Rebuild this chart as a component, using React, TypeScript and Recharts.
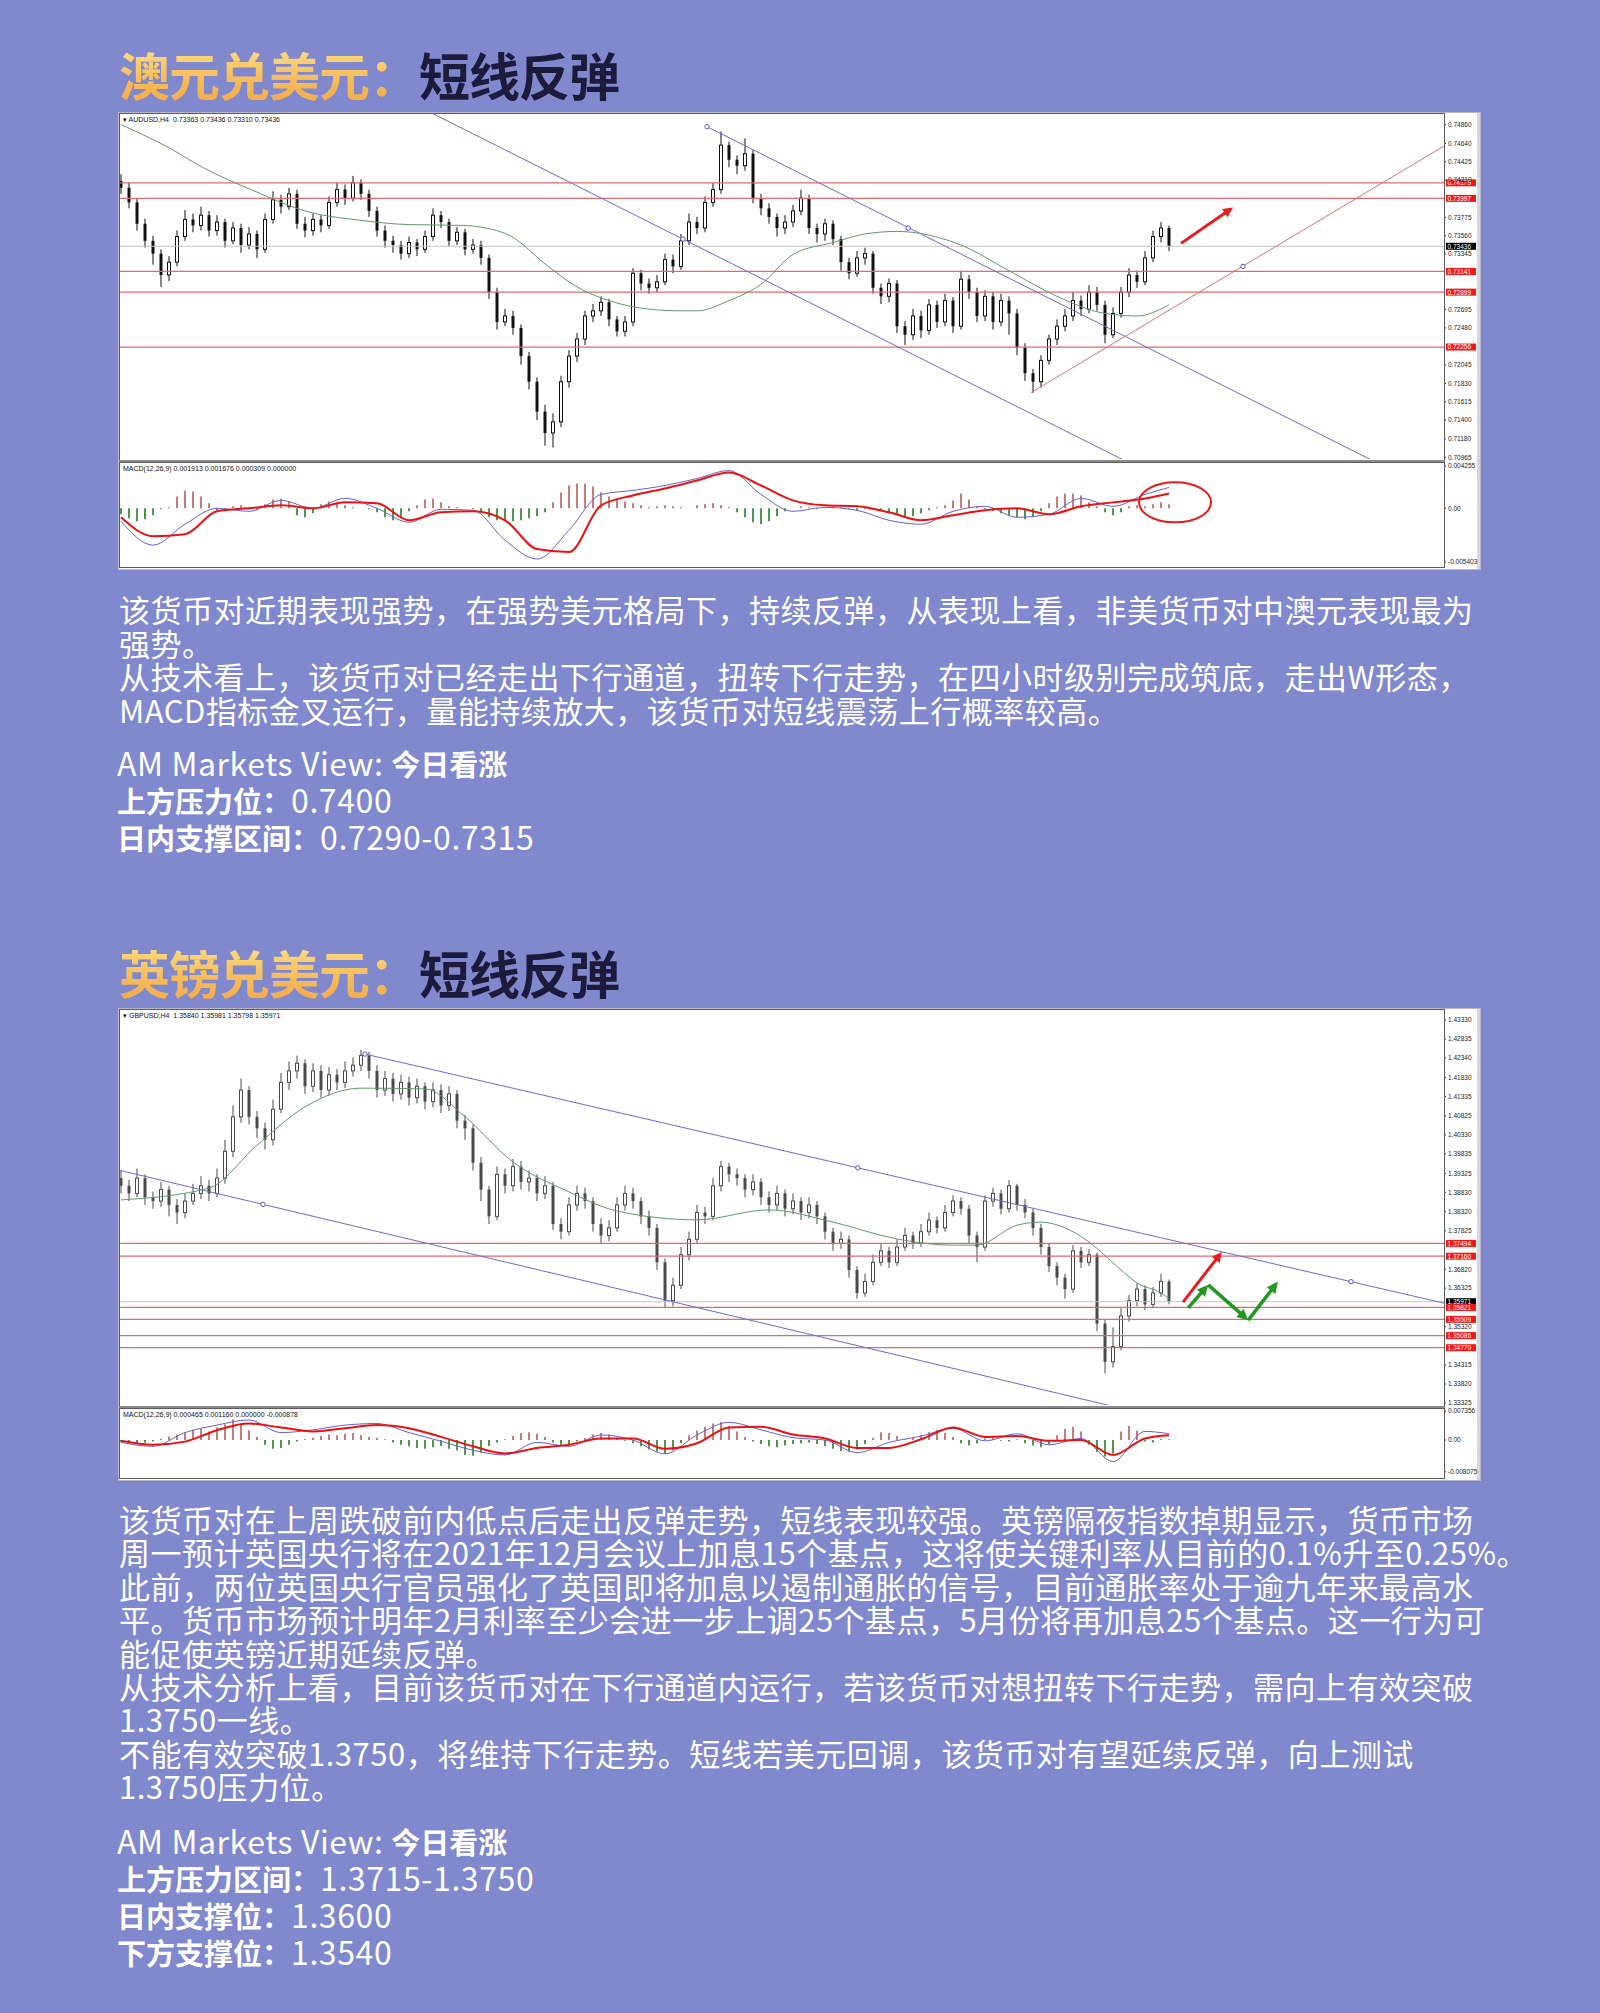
import React from 'react';
import { ComposedChart, Bar, Line, XAxis, YAxis, ReferenceLine, ReferenceDot, Cell } from 'recharts';

// ---------- AUDUSD H4 (prices in 1/10000) ----------
const AUD_OPEN0 = 7420;
const AUD_CLOSE = [
  7412, 7395, 7370, 7350, 7335, 7310, 7325, 7355, 7375, 7368,
  7380, 7362, 7372, 7350, 7365, 7345, 7358, 7340, 7375, 7398,
  7390, 7405, 7370, 7362, 7375, 7368, 7395, 7410, 7400, 7418,
  7405, 7385, 7362, 7350, 7345, 7335, 7348, 7340, 7355, 7380,
  7372, 7350, 7360, 7340, 7345, 7330, 7290, 7255, 7262, 7248,
  7215, 7185, 7150, 7125, 7138, 7185, 7215, 7235, 7262, 7268,
  7278, 7258, 7244, 7255, 7312, 7300, 7295, 7302, 7328, 7320,
  7350, 7372, 7365, 7395, 7410, 7462, 7445, 7438, 7452, 7400,
  7388, 7378, 7365, 7372, 7385, 7400, 7365, 7358, 7370, 7352,
  7325, 7312, 7330, 7335, 7295, 7285, 7300, 7250, 7240, 7262,
  7245, 7275, 7255, 7280, 7250, 7305, 7290, 7262, 7285, 7255,
  7280, 7265, 7225, 7195, 7185, 7210, 7235, 7250, 7262, 7280,
  7270, 7290, 7275, 7240, 7265, 7290, 7310, 7302, 7330, 7355,
  7365, 7344,
];
const AUD_HIGH = [
  7428, 7418, 7400, 7376, 7356, 7340, 7332, 7362, 7386, 7382,
  7390, 7385, 7380, 7376, 7372, 7370, 7366, 7362, 7382, 7408,
  7404, 7412, 7410, 7378, 7382, 7380, 7402, 7418, 7416, 7426,
  7422, 7410, 7390, 7368, 7356, 7350, 7355, 7352, 7362, 7388,
  7385, 7376, 7366, 7364, 7352, 7350, 7334, 7295, 7270, 7268,
  7252, 7220, 7190, 7158, 7148, 7192, 7222, 7242, 7268, 7276,
  7285, 7282, 7262, 7262, 7318, 7316, 7306, 7310, 7335, 7334,
  7358, 7382, 7378, 7402, 7418, 7478, 7466, 7450, 7470, 7456,
  7405, 7394, 7382, 7380, 7392, 7410, 7404, 7370, 7376, 7374,
  7356, 7330, 7338, 7342, 7338, 7300, 7306, 7304, 7256, 7270,
  7268, 7282, 7280, 7288, 7284, 7315, 7310, 7295, 7292, 7290,
  7288, 7285, 7270, 7230, 7200, 7216, 7240, 7258, 7270, 7290,
  7286, 7298, 7296, 7280, 7272, 7296, 7318, 7315, 7338, 7362,
  7372, 7368,
];
const AUD_LOW = [
  7405, 7388, 7362, 7342, 7322, 7296, 7303, 7320, 7350, 7360,
  7362, 7355, 7356, 7342, 7346, 7336, 7340, 7330, 7336, 7370,
  7382, 7386, 7364, 7354, 7356, 7360, 7364, 7390, 7392, 7396,
  7398, 7378, 7355, 7342, 7336, 7328, 7330, 7332, 7336, 7350,
  7365, 7344, 7345, 7333, 7335, 7322, 7282, 7246, 7250, 7240,
  7205, 7176, 7140, 7110, 7108, 7132, 7178, 7208, 7228, 7255,
  7262, 7250, 7238, 7238, 7250, 7292, 7288, 7290, 7298, 7312,
  7316, 7345, 7358, 7360, 7390, 7405, 7436, 7428, 7432, 7394,
  7380, 7370, 7355, 7358, 7366, 7380, 7358, 7348, 7350, 7345,
  7315, 7305, 7308, 7322, 7288, 7276, 7278, 7242, 7228, 7234,
  7236, 7240, 7248, 7250, 7242, 7246, 7282, 7255, 7256, 7246,
  7250, 7240, 7216, 7186, 7172, 7178, 7205, 7228, 7244, 7256,
  7262, 7265, 7268, 7230, 7236, 7260, 7284, 7295, 7298, 7325,
  7348, 7338,
];
// moving average, [candle, price]
const AUD_MA: [number, number][] = [
  [0, 7486], [6, 7459], [10, 7437], [17, 7407], [23, 7385], [30, 7374], [36, 7369], [43, 7368],
  [45, 7366], [49, 7354], [53, 7323], [57, 7296], [61, 7280], [66, 7270], [70, 7268], [72, 7268],
  [76, 7280], [80, 7299], [84, 7334], [89, 7348], [93, 7358], [97, 7361], [105, 7345], [111, 7315],
  [117, 7285], [123, 7265], [127, 7262], [131, 7275],
];
// MACD values in 1/10000
const AUD_MACD: [number, number][] = [
  [0, -13], [4, -37], [8, -16], [12, 0], [16, -3], [20, 8], [24, 0], [28, 10], [32, 0], [36, -14],
  [40, -1], [44, -2], [48, -32], [52, -51], [56, -22], [60, 14], [64, 18], [68, 23], [72, 30], [76, 38],
  [80, 14], [84, -3], [88, 1], [92, -2], [96, -12], [100, -16], [104, -3], [108, 2], [112, -9], [116, -6],
  [120, 10], [124, 2], [128, 14], [131, 21],
];
const AUD_SIGNAL: [number, number][] = [
  [0, -9], [4, -28], [8, -26], [12, -3], [16, 0], [20, 3], [24, 0], [28, 6], [32, 5], [36, -12],
  [40, -4], [44, -3], [48, -12], [52, -41], [56, -44], [60, 3], [64, 13], [68, 20], [72, 28], [76, 36],
  [80, 23], [84, 8], [88, 3], [92, 2], [96, -4], [100, -12], [104, -7], [108, -2], [112, 0], [116, -6],
  [120, 2], [124, 6], [128, 10], [131, 15],
];
const AUD_HIST = [
  -6, -10, -13, -11, -7, -1, 1, 12, 18, 17, 12, 5, -2, -3, 2, 3, 1, -2, 4, 9,
  10, 7, -7, -9, -5, 4, 7, 6, 3, 1, 0, -1, -4, -9, -12, -10, -3, 3, 9, 10,
  6, 2, 1, 0, -1, -4, -9, -12, -13, -13, -12, -10, -8, -4, 6, 16, 23, 25, 25, 22,
  16, 12, 9, 7, 5, 3, 1, 2, 3, 2, 1, 0, 3, 4, 5, 3, 1, -4, -9, -14,
  -16, -13, -8, -3, 0, 2, 1, -1, 1, 2, 1, -1, -2, -1, 0, -3, -5, -7, -9, -8,
  -5, -2, 1, 3, 8, 15, 9, 2, -1, -3, -5, -7, -9, -11, -8, -3, 5, 12, 15, 15,
  13, 6, 2, -4, -7, -4, 2, 3, 2, 4, 6, 4,
];
const AUD_TICKS = [0.7486, 0.7464, 0.74425, 0.7421, 0.73775, 0.7356, 0.73345, 0.72695, 0.7248, 0.72045, 0.7183, 0.71615, 0.714, 0.7118, 0.70965];
const AUD_LEVELS = [0.74179, 0.73997, 0.73141, 0.72899, 0.72256];
const AUD_LAST = 0.73436;
const AUD_MACD_TICKS = [0.004255, 0, -0.005403];
const AUD_CHANNEL: [number, number][][] = [
  [[30, 0.75411], [126, 0.70901]],
  [[73.25, 0.74837], [157, 0.70901]],
];
const AUD_SUPPORT: [number, number][] = [[113.75, 0.71723], [166, 0.74645]];
const AUD_ANCHORS: [number, number][] = [[73.25, 0.74837], [70.25, 0.7352], [98.4, 0.7365], [140.25, 0.732]];
const AUD_ARROWS: [number, number][][] = [[[132.5, 0.7347], [139, 0.7389]]];

// ---------- GBPUSD H4 ----------
const GBP_OPEN0 = 13920;
const GBP_CLOSE = [
  13900, 13880, 13920, 13870, 13860, 13890, 13850, 13830, 13860, 13880,
  13900, 13880, 13920, 13990, 14080, 14150, 14080, 14050, 14020, 14100,
  14170, 14200, 14220, 14160, 14200, 14150, 14190, 14170, 14200, 14215,
  14240, 14200, 14150, 14180, 14140, 14170, 14130, 14160, 14120, 14150,
  14110, 14140, 14070, 14050, 13960, 13890, 13820, 13930, 13900, 13950,
  13910, 13920, 13880, 13900, 13800, 13780, 13850, 13880, 13860, 13800,
  13770, 13790, 13850, 13880, 13860, 13820, 13790, 13700, 13600, 13640,
  13720, 13760, 13830, 13820, 13900, 13950, 13930, 13920, 13890, 13910,
  13870, 13850, 13880, 13840, 13860, 13830, 13850, 13820, 13780, 13750,
  13760, 13680, 13620, 13650, 13700, 13730, 13700, 13740, 13770, 13750,
  13780, 13810, 13790, 13830, 13860, 13840, 13770, 13740, 13860, 13880,
  13840, 13900, 13850, 13830, 13790, 13740, 13690, 13660, 13630, 13730,
  13700, 13720, 13540, 13440, 13480, 13560, 13600, 13630, 13590, 13620,
  13650, 13597,
];
const GBP_HIGH = [
  13940, 13915, 13945, 13930, 13885, 13910, 13900, 13865, 13880, 13905,
  13925, 13915, 13945, 14020, 14110, 14180, 14160, 14095, 14065, 14125,
  14195, 14225, 14240, 14230, 14220, 14215, 14210, 14205, 14225, 14235,
  14255, 14250, 14215, 14200, 14195, 14190, 14185, 14180, 14170, 14170,
  14165, 14160, 14150, 14085, 14060, 13975, 13900, 13950, 13945, 13970,
  13965, 13940, 13930, 13925, 13910, 13815, 13870, 13900, 13895, 13870,
  13815, 13810, 13870, 13900, 13895, 13870, 13835, 13800, 13710, 13660,
  13740, 13780, 13850, 13845, 13920, 13965, 13960, 13945, 13930, 13930,
  13920, 13885, 13900, 13890, 13880, 13870, 13870, 13860, 13830, 13790,
  13780, 13770, 13690, 13670, 13720, 13750, 13740, 13760, 13790, 13780,
  13800, 13830, 13820, 13850, 13875, 13870, 13850, 13780, 13875, 13895,
  13890, 13915, 13905, 13865, 13840, 13800, 13750, 13700, 13670, 13745,
  13740, 13735, 13725, 13550, 13530, 13580, 13615, 13645, 13640, 13635,
  13670, 13655,
];
const GBP_LOW = [
  13880, 13860, 13870, 13850, 13840, 13845, 13820, 13800, 13815, 13850,
  13865, 13860, 13870, 13905, 13975, 14065, 14060, 14025, 13995, 14005,
  14090, 14150, 14180, 14140, 14145, 14130, 14135, 14150, 14155, 14185,
  14200, 14180, 14130, 14135, 14120, 14125, 14110, 14115, 14100, 14105,
  14090, 14095, 14050, 14020, 13940, 13860, 13800, 13810, 13880, 13885,
  13890, 13885, 13860, 13865, 13785, 13760, 13770, 13835, 13840, 13780,
  13750, 13755, 13780, 13835, 13840, 13800, 13770, 13680, 13580, 13585,
  13630, 13705, 13750, 13800, 13810, 13885, 13910, 13900, 13870, 13875,
  13850, 13830, 13835, 13820, 13825, 13810, 13815, 13800, 13760, 13730,
  13735, 13660, 13605, 13610, 13640, 13690, 13685, 13690, 13730, 13735,
  13740, 13770, 13775, 13780, 13820, 13825, 13750, 13700, 13730, 13845,
  13825, 13830, 13835, 13815, 13770, 13720, 13675, 13640, 13605, 13620,
  13685, 13690, 13520, 13410, 13425, 13470, 13545, 13585, 13575, 13580,
  13610, 13590,
];
const GBP_MA: [number, number][] = [
  [0, 13863], [11, 13894], [17, 14006], [23, 14106], [30, 14155], [38, 14153], [43, 14080], [49, 13962],
  [56, 13884], [62, 13834], [72, 13811], [81, 13837], [89, 13805], [97, 13761], [104, 13745], [107, 13745],
  [112, 13797], [115, 13805], [118, 13790], [121, 13753], [125, 13680], [127, 13646], [130, 13620], [131, 13605],
];
const GBP_MACD: [number, number][] = [
  [0, -6], [4, -16], [8, 19], [12, 38], [16, 51], [20, 19], [24, 26], [28, 38], [32, 42], [36, 19],
  [40, -3], [44, -26], [48, -38], [52, -6], [56, -16], [60, 13], [64, 0], [68, -35], [72, 13], [76, 45],
  [80, 26], [84, 6], [88, 0], [92, -32], [96, -6], [100, 10], [104, 30], [108, -2], [112, 16], [116, -12],
  [120, 4], [124, -55], [128, 22], [131, 16],
];
const GBP_SIGNAL: [number, number][] = [
  [0, -2], [4, -12], [8, -4], [12, 25], [16, 42], [20, 32], [24, 22], [28, 30], [32, 38], [36, 30],
  [40, 8], [44, -16], [48, -34], [52, -20], [56, -12], [60, 4], [64, 4], [68, -22], [72, -8], [76, 32],
  [80, 34], [84, 14], [88, 4], [92, -20], [96, -20], [100, 2], [104, 32], [108, 8], [112, 10], [116, -2],
  [120, 0], [124, -38], [128, 4], [131, 12],
];
const GBP_HIST = [
  -5, -8, -10, -7, -4, 3, 9, 14, 20, 26, 28, 22, 32, 40, 52, 42, 25, 8, -12, -22,
  -20, -12, -4, 2, 6, 10, 14, 12, 16, 18, 12, 8, 6, 2, -6, -12, -16, -20, -22, -18,
  -15, -22, -26, -38, -40, -32, -15, -6, 2, 10, 18, 20, 16, 8, -6, -12, -10, -4, 6, 14,
  18, 14, 6, -2, -8, -16, -24, -30, -34, -26, -8, 12, 24, 34, 42, 46, 36, 22, 8, -4,
  -10, -16, -18, -14, -10, -8, -6, -10, -16, -22, -28, -30, -24, -10, 6, 20, 18, 10, 2, 6,
  12, 20, 26, 18, 8, -8, -14, -9, 4, 6, -2, -4, 2, -8, -14, -18, -10, 12, 28, 34,
  22, -12, -30, -42, -34, 22, 36, 24, -4, -6, 3, 2,
];
const GBP_TICKS = [1.4333, 1.42835, 1.4234, 1.4183, 1.41335, 1.40825, 1.4033, 1.39835, 1.39325, 1.3883, 1.3832, 1.37825, 1.3682, 1.36325, 1.3532, 1.34315, 1.3382, 1.33325];
const GBP_LEVELS = [1.37494, 1.3716, 1.35821, 1.35509, 1.35086, 1.3477];
const GBP_LAST = 1.35971;
const GBP_MACD_TICKS = [0.007356, 0, -0.008075];
const GBP_CHANNEL: [number, number][][] = [
  [[30.5, 1.4244], [170, 1.35711]],
  [[-2, 1.39494], [126, 1.33138]],
];
const GBP_ANCHORS: [number, number][] = [[30.5, 1.4244], [92.1, 1.39469], [153.75, 1.36494], [17.75, 1.38514]];
const GBP_RED_ARROWS: [number, number][][] = [[[132.75, 1.3596], [137.6, 1.3727]]];
const GBP_GREEN_ARROWS: [number, number][][] = [
  [[133.4, 1.3581], [135.9, 1.3641]],
  [[135.9, 1.3641], [140.9, 1.3549]],
  [[140.9, 1.3549], [144.6, 1.3649]],
];

const W = 1360;
const X_DOMAIN: [number, number] = [-0.125, 165.375];
const CJK = '"Noto Sans CJK SC", "Noto Sans", sans-serif';
const SMALL = '"Liberation Sans", Arial, sans-serif';

function buildCandles(open0: number, close: number[], high: number[], low: number[], ma: [number, number][]) {
  const maMap = new Map(ma);
  return close.map((c, i) => {
    const o = i === 0 ? open0 : close[i - 1];
    const m = maMap.get(i);
    return {
      i,
      open: o / 1e4,
      close: c / 1e4,
      high: high[i] / 1e4,
      low: low[i] / 1e4,
      range: [low[i] / 1e4, high[i] / 1e4],
      ma: m === undefined ? null : m / 1e4,
    };
  });
}

function buildMacd(hist: number[], macd: [number, number][], signal: [number, number][]) {
  const a = new Map(macd);
  const b = new Map(signal);
  return hist.map((h, i) => ({
    i,
    hist: h / 1e4,
    macd: a.has(i) ? (a.get(i) as number) / 1e4 : null,
    signal: b.has(i) ? (b.get(i) as number) / 1e4 : null,
  }));
}

const Candle = (props: any) => {
  const { x, y, width, height, payload, color, bodyW } = props;
  if (!payload || x == null || y == null) return null;
  const top = height >= 0 ? y : y + height;
  const h = Math.abs(height);
  const { open, close, high, low } = payload;
  const k = high > low ? h / (high - low) : 0;
  const cx = x + width / 2;
  const yo = top + (high - open) * k;
  const yc = top + (high - close) * k;
  const up = close > open;
  return (
    <g>
      <line x1={cx} x2={cx} y1={top} y2={top + h} stroke={color} strokeWidth={1} />
      <rect
        x={cx - bodyW / 2}
        y={Math.min(yo, yc)}
        width={bodyW}
        height={Math.max(1, Math.abs(yo - yc))}
        fill={up ? '#ffffff' : color}
        stroke={color}
        strokeWidth={up ? 1 : 0}
      />
    </g>
  );
};

const Tag = (props: any) => {
  const { viewBox, text, bg } = props;
  if (!viewBox) return null;
  const x = viewBox.x + viewBox.width + 2;
  const y = viewBox.y;
  return (
    <g>
      <rect x={x} y={y - 3.5} width={30} height={7} fill={bg} />
      <text x={x + 1.5} y={y + 2.4} fontSize={6.5} fill="#fff" fontFamily={SMALL}>{text}</text>
    </g>
  );
};

const arrowShape = (color: string, w: number, head: number) => (p: any) => {
  const { x1, y1, x2, y2 } = p;
  const a = Math.atan2(y2 - y1, x2 - x1);
  const c = Math.cos(a);
  const s = Math.sin(a);
  const bx = x2 - head * c;
  const by = y2 - head * s;
  const half = head * 0.5;
  const pts = `${x2},${y2} ${bx + half * s},${by - half * c} ${bx - half * s},${by + half * c}`;
  return (
    <g>
      <line x1={x1} y1={y1} x2={bx + 2 * c} y2={by + 2 * s} stroke={color} strokeWidth={w} />
      <polygon points={pts} fill={color} />
    </g>
  );
};

const seg = (s: [number, number][]) => [{ x: s[0][0], y: s[0][1] }, { x: s[1][0], y: s[1][1] }];

type PriceProps = {
  data: any[];
  height: number;
  domain: [number, number];
  ticks: number[];
  levels: number[];
  last: number;
  channel: [number, number][][];
  support?: [number, number][];
  anchors: [number, number][];
  redArrows: [number, number][][];
  greenArrows?: [number, number][][];
  color: string;
  bodyW: number;
};

function PricePanel(p: PriceProps) {
  return (
    <ComposedChart width={W} height={p.height} data={p.data} margin={{ top: 1, right: 1, bottom: 1, left: 1 }}>
      <XAxis type="number" dataKey="i" domain={X_DOMAIN} hide allowDataOverflow />
      <YAxis
        orientation="right"
        width={34}
        domain={p.domain}
        ticks={p.ticks}
        interval={0}
        allowDataOverflow
        axisLine={false}
        tickSize={2}
        tickMargin={2}
        tickLine={{ stroke: '#333' }}
        tick={{ fontSize: 6.5, fill: '#222', fontFamily: SMALL }}
        tickFormatter={(v: number) => v.toFixed(5)}
      />
      <ReferenceLine y={p.last} stroke="#c4c4c4" strokeWidth={1} label={<Tag text={p.last.toFixed(5)} bg="#000" />} />
      {p.levels.map((v) => (
        <ReferenceLine key={v} y={v} stroke="#e36a6a" strokeWidth={1.3} label={<Tag text={v.toFixed(5)} bg="#f01818" />} />
      ))}
      {p.channel.map((s, k) => (
        <ReferenceLine key={'c' + k} segment={seg(s)} stroke="#6a6ad2" strokeWidth={1} ifOverflow="hidden" />
      ))}
      {p.support && <ReferenceLine segment={seg(p.support)} stroke="#e07070" strokeWidth={1} ifOverflow="hidden" />}
      <Line dataKey="ma" type="monotone" stroke="#5f9c68" strokeWidth={1} dot={false} connectNulls isAnimationActive={false} />
      <Bar
        dataKey="range"
        barSize={Math.max(3, p.bodyW + 1)}
        isAnimationActive={false}
        shape={(sp: any) => <Candle {...sp} color={p.color} bodyW={p.bodyW} />}
      />
      {p.anchors.map((a, k) => (
        <ReferenceDot key={'a' + k} x={a[0]} y={a[1]} r={2.2} fill="#fff" stroke="#5555cc" strokeWidth={1} ifOverflow="visible" />
      ))}
      {p.redArrows.map((s, k) => (
        <ReferenceLine key={'r' + k} segment={seg(s)} ifOverflow="visible" shape={arrowShape('#e81c1c', 3, 10)} />
      ))}
      {(p.greenArrows || []).map((s, k) => (
        <ReferenceLine key={'g' + k} segment={seg(s)} ifOverflow="visible" shape={arrowShape('#1f9a1f', 3.5, 11)} />
      ))}
    </ComposedChart>
  );
}

type MacdProps = {
  data: any[];
  height: number;
  domain: [number, number];
  ticks: number[];
  ellipse?: [number, number];
};

function MacdPanel(p: MacdProps) {
  return (
    <ComposedChart width={W} height={p.height} data={p.data} margin={{ top: 1, right: 1, bottom: 1, left: 1 }}>
      <XAxis type="number" dataKey="i" domain={X_DOMAIN} hide allowDataOverflow />
      <YAxis
        orientation="right"
        width={34}
        domain={p.domain}
        ticks={p.ticks}
        interval={0}
        allowDataOverflow
        axisLine={false}
        tickSize={2}
        tickMargin={2}
        tickLine={{ stroke: '#333' }}
        tick={{ fontSize: 6.5, fill: '#222', fontFamily: SMALL }}
        tickFormatter={(v: number) => (v === 0 ? '0.00' : v.toFixed(6))}
      />
      <Bar dataKey="hist" barSize={2} isAnimationActive={false}>
        {p.data.map((d) => (
          <Cell key={d.i} fill={d.hist >= 0 ? '#c97a7a' : '#4e984e'} />
        ))}
      </Bar>
      <Line dataKey="macd" type="monotone" stroke="#6464d4" strokeWidth={1} dot={false} connectNulls isAnimationActive={false} />
      <Line dataKey="signal" type="monotone" stroke="#ee1010" strokeWidth={2} dot={false} connectNulls isAnimationActive={false} />
      {p.ellipse && (
        <ReferenceDot
          x={p.ellipse[0]}
          y={p.ellipse[1]}
          ifOverflow="visible"
          shape={(sp: any) => <ellipse cx={sp.cx} cy={sp.cy} rx={36} ry={20} fill="none" stroke="#e81a1a" strokeWidth={2} />}
        />
      )}
    </ComposedChart>
  );
}

const frame = (top: number, height: number): React.CSSProperties => ({
  position: 'absolute',
  left: 0,
  top,
  width: 1326,
  height,
  boxSizing: 'border-box',
  border: '1px solid #5c5c5c',
  pointerEvents: 'none',
});

const tinyText: React.CSSProperties = {
  position: 'absolute',
  left: 4,
  fontFamily: SMALL,
  fontSize: 7,
  color: '#111',
  whiteSpace: 'pre',
  lineHeight: '8px',
};

function ChartBox(props: {
  top: number;
  mainH: number;
  macdH: number;
  header: string;
  macdHeader: string;
  price: PriceProps;
  macd: MacdProps;
}) {
  const { top, mainH, macdH } = props;
  return (
    <div
      style={{
        position: 'absolute',
        left: 119,
        top,
        width: 1361,
        height: mainH + macdH + 4,
        background: '#fff',
        boxShadow: '0 0 0 1px #b8b8c8',
        borderRight: '3px solid #d6d6dc',
        boxSizing: 'border-box',
      }}
    >
      <div style={{ position: 'absolute', left: 0, top: 0 }}>
        <PricePanel {...props.price} />
      </div>
      <div style={{ position: 'absolute', left: 0, top: mainH + 2 }}>
        <MacdPanel {...props.macd} />
      </div>
      <div style={frame(0, mainH + 1)} />
      <div style={{ position: 'absolute', left: 0, top: mainH, width: 1326, height: 2, background: '#8a8a8a' }} />
      <div style={frame(mainH + 2, macdH + 1)} />
      <div style={{ ...tinyText, top: 3 }}>{'\u25BE ' + props.header}</div>
      <div style={{ ...tinyText, top: mainH + 5 }}>{props.macdHeader}</div>
    </div>
  );
}

const para: React.CSSProperties = {
  position: 'absolute',
  left: 119,
  color: '#fff',
  fontFamily: CJK,
  fontSize: 31,
  letterSpacing: 0.5,
  whiteSpace: 'pre',
};

const gold: React.CSSProperties = {
  background: 'linear-gradient(180deg, #ffe690 0%, #f7be5c 55%, #f2a447 100%)',
  WebkitBackgroundClip: 'text',
  backgroundClip: 'text',
  color: 'transparent',
};

function Title({ top, gold: g, rest }: { top: number; gold: string; rest: string }) {
  return (
    <div
      style={{
        position: 'absolute',
        left: 119,
        top,
        fontFamily: CJK,
        fontWeight: 700,
        fontSize: 51,
        letterSpacing: -1,
        lineHeight: '58px',
        whiteSpace: 'pre',
      }}
    >
      <span style={gold}>{g}</span>
      <span style={{ color: '#1d1b3c' }}>{rest}</span>
    </div>
  );
}

const latin: React.CSSProperties = { fontWeight: 400, fontSize: 32, letterSpacing: 0.6 };

function Views({ top, rows }: { top: number; rows: [string, string][] }) {
  return (
    <div style={{ position: 'absolute', left: 117, top, color: '#fff', fontFamily: CJK, fontSize: 29, lineHeight: '37px', whiteSpace: 'pre' }}>
      {rows.map((r, k) => (
        <div key={k} style={{ height: 37 }}>
          {k === 0 ? (
            <>
              <span style={latin}>{r[0]}</span>
              <span style={{ fontWeight: 700 }}>{r[1]}</span>
            </>
          ) : (
            <>
              <span style={{ fontWeight: 700 }}>{r[0]}</span>
              <span style={latin}>{r[1]}</span>
            </>
          )}
        </div>
      ))}
    </div>
  );
}

const AUD_TEXT = [
  '该货币对近期表现强势，在强势美元格局下，持续反弹，从表现上看，非美货币对中澳元表现最为',
  '强势。',
  '从技术看上，该货币对已经走出下行通道，扭转下行走势，在四小时级别完成筑底，走出W形态，',
  'MACD指标金叉运行，量能持续放大，该货币对短线震荡上行概率较高。',
];
const GBP_TEXT = [
  '该货币对在上周跌破前内低点后走出反弹走势，短线表现较强。英镑隔夜指数掉期显示，货币市场',
  '周一预计英国央行将在2021年12月会议上加息15个基点，这将使关键利率从目前的0.1%升至0.25%。',
  '此前，两位英国央行官员强化了英国即将加息以遏制通胀的信号，目前通胀率处于逾九年来最高水',
  '平。货币市场预计明年2月利率至少会进一步上调25个基点，5月份将再加息25个基点。这一行为可',
  '能促使英镑近期延续反弹。',
  '从技术分析上看，目前该货币对在下行通道内运行，若该货币对想扭转下行走势，需向上有效突破',
  '1.3750一线。',
  '不能有效突破1.3750，将维持下行走势。短线若美元回调，该货币对有望延续反弹，向上测试',
  '1.3750压力位。',
];
const AUD_VIEW: [string, string][] = [
  ['AM Markets View: ', '今日看涨'],
  ['上方压力位：', '0.7400'],
  ['日内支撑区间：', '0.7290-0.7315'],
];
const GBP_VIEW: [string, string][] = [
  ['AM Markets View: ', '今日看涨'],
  ['上方压力区间：', '1.3715-1.3750'],
  ['日内支撑位：', '1.3600'],
  ['下方支撑位：', '1.3540'],
];

export default function App() {
  const audData = buildCandles(AUD_OPEN0, AUD_CLOSE, AUD_HIGH, AUD_LOW, AUD_MA);
  const gbpData = buildCandles(GBP_OPEN0, GBP_CLOSE, GBP_HIGH, GBP_LOW, GBP_MA);
  const audMacd = buildMacd(AUD_HIST, AUD_MACD, AUD_SIGNAL);
  const gbpMacd = buildMacd(GBP_HIST, GBP_MACD, GBP_SIGNAL);

  return (
    <div style={{ position: 'absolute', left: 0, top: 0, width: 1600, height: 2013, background: '#8088ce', overflow: 'hidden' }}>
      <Title top={45} gold="澳元兑美元：" rest="短线反弹" />
      <ChartBox
        top={113}
        mainH={347}
        macdH={105}
        header="AUDUSD,H4  0.73363 0.73436 0.73310 0.73436"
        macdHeader="MACD(12,26,9) 0.001913 0.001676 0.000309 0.000000"
        price={{
          data: audData,
          height: 347,
          domain: [0.70945, 0.74985],
          ticks: AUD_TICKS,
          levels: AUD_LEVELS,
          last: AUD_LAST,
          channel: AUD_CHANNEL,
          support: AUD_SUPPORT,
          anchors: AUD_ANCHORS,
          redArrows: AUD_ARROWS,
          color: '#111',
          bodyW: 3,
        }}
        macd={{ data: audMacd, height: 105, domain: [-0.0058, 0.00456], ticks: AUD_MACD_TICKS, ellipse: [131.75, 0.0006] }}
      />
      <div style={{ ...para, top: 592, lineHeight: '33.5px' }}>
        {AUD_TEXT.map((t, k) => (
          <div key={k}>{t}</div>
        ))}
      </div>
      <Views top={744} rows={AUD_VIEW} />

      <Title top={943} gold="英镑兑美元：" rest="短线反弹" />
      <ChartBox
        top={1009}
        mainH={397}
        macdH={70}
        header="GBPUSD,H4  1.35840 1.35981 1.35798 1.35971"
        macdHeader="MACD(12,26,9) 0.000465 0.001160 0.000000 -0.000878"
        price={{
          data: gbpData,
          height: 397,
          domain: [1.33273, 1.43591],
          ticks: GBP_TICKS,
          levels: GBP_LEVELS,
          last: GBP_LAST,
          channel: GBP_CHANNEL,
          anchors: GBP_ANCHORS,
          redArrows: GBP_RED_ARROWS,
          greenArrows: GBP_GREEN_ARROWS,
          color: '#4a4a4a',
          bodyW: 3,
        }}
        macd={{ data: gbpMacd, height: 70, domain: [-0.0094, 0.0079], ticks: GBP_MACD_TICKS }}
      />
      <div style={{ ...para, top: 1502, lineHeight: '33.4px' }}>
        {GBP_TEXT.map((t, k) => (
          <div key={k}>{t}</div>
        ))}
      </div>
      <Views top={1822} rows={GBP_VIEW} />
    </div>
  );
}
